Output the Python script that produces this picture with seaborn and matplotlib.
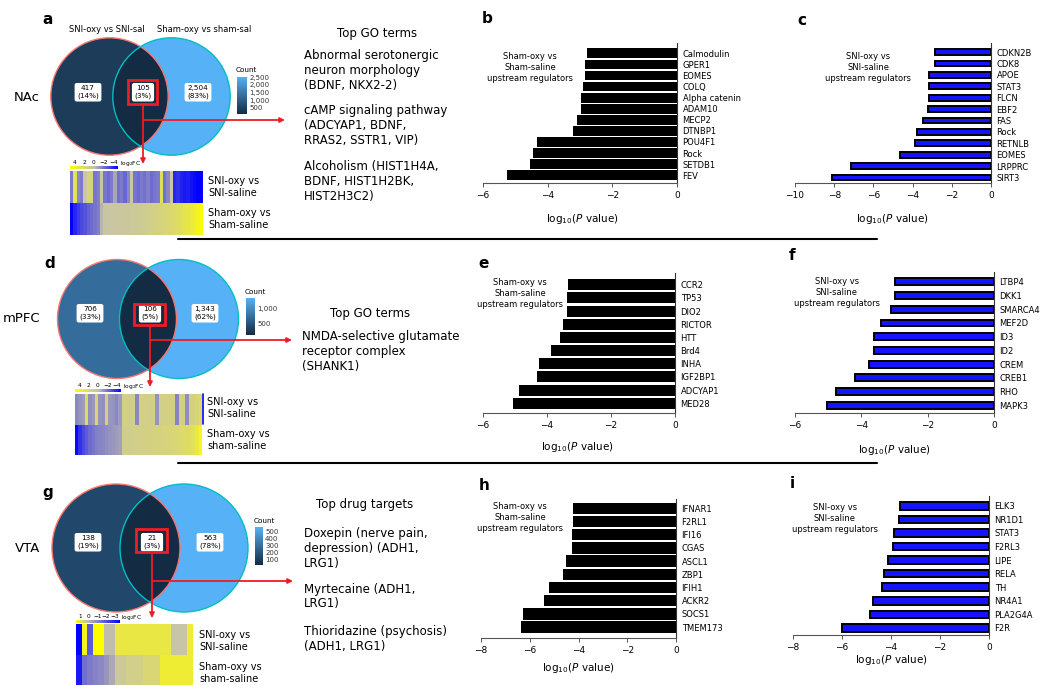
import numpy as np
import pandas as pd
import matplotlib
matplotlib.use("Agg")
import matplotlib.pyplot as plt
import seaborn as sns
from matplotlib.colors import LinearSegmentedColormap, Normalize
from matplotlib.cm import ScalarMappable
from matplotlib.patches import Circle, Rectangle

# ---------------- data ----------------
b_genes = ["Calmodulin", "GPER1", "EOMES", "COLQ", "Alpha catenin", "ADAM10", "MECP2",
           "DTNBP1", "POU4F1", "Rock", "SETDB1", "FEV"]
b_vals = [-2.79, -2.83, -2.83, -2.92, -2.97, -2.97, -3.09, -3.23, -4.34, -4.45, -4.54, -5.25]
c_genes = ["CDKN2B", "CDK8", "APOE", "STAT3", "FLCN", "EBF2", "FAS", "Rock", "RETNLB",
           "EOMES", "LRPPRC", "SIRT3"]
c_vals = [-2.87, -2.87, -3.17, -3.17, -3.17, -3.22, -3.46, -3.79, -3.86, -4.62, -7.13, -8.10]
e_genes = ["CCR2", "TP53", "DIO2", "RICTOR", "HTT", "Brd4", "INHA", "IGF2BP1", "ADCYAP1", "MED28"]
e_vals = [-3.34, -3.36, -3.39, -3.49, -3.58, -3.86, -4.25, -4.32, -4.89, -5.06]
f_genes = ["LTBP4", "DKK1", "SMARCA4", "MEF2D", "ID3", "ID2", "CREM", "CREB1", "RHO", "MAPK3"]
f_vals = [-3.00, -3.00, -3.10, -3.42, -3.62, -3.62, -3.78, -4.20, -4.77, -5.05]
h_genes = ["IFNAR1", "F2RL1", "IFI16", "CGAS", "ASCL1", "ZBP1", "IFIH1", "ACKR2", "SOCS1", "TMEM173"]
h_vals = [-4.24, -4.24, -4.27, -4.27, -4.52, -4.62, -5.21, -5.43, -6.28, -6.36]
i_genes = ["ELK3", "NR1D1", "STAT3", "F2RL3", "LIPE", "RELA", "TH", "NR4A1", "PLA2G4A", "F2R"]
i_vals = [-3.62, -3.66, -3.86, -3.90, -4.14, -4.30, -4.38, -4.72, -4.87, -6.02]

sham_note = "Sham-oxy vs\nSham-saline\nupstream regulators"
sni_note = "SNI-oxy vs\nSNI-saline\nupstream regulators"

regions = ["NAc", "mPFC", "VTA"]
nac_counts = [417, 105, 2504]
nac_pct = [14, 3, 83]
mpfc_counts = [706, 106, 1343]
mpfc_pct = [33, 5, 62]
vta_counts = [138, 21, 563]
vta_pct = [19, 3, 78]
nac_cbar_ticks = [500, 1000, 1500, 2000, 2500]
mpfc_cbar_ticks = [500, 1000]
vta_cbar_ticks = [100, 200, 300, 400, 500]
set_names = ["SNI-oxy vs SNI-sal", "Sham-oxy vs sham-sal"]

# heatmap log2FC (rows: SNI comparison, Sham comparison)
nac_sni = [-1.5, 2.0, -1.2, -1.5, 0.2, 1.2, 1.0, -1.6, -1.4, 0.3, -1.6, -1.8, -1.5, -0.6, -1.7,
           -1.5, -1.9, -1.2, 0.3, -1.6, -1.8, -1.5, -1.7, -1.4, -1.8, -1.6, -1.5, 1.8, -1.7, -1.2,
           0.2, -3.2, -3.0, -3.3, -3.5, -3.4, -3.6, -3.8, -4.0, -4.0]
nac_sham = [-4.0, -3.2, -2.8, -2.5, -2.3, -2.0, -1.8, -1.6, -1.4, -0.3, 0.1, 0.1, 0.2, 0.2, 0.2,
            0.3, 0.3, 0.3, 0.4, 0.4, 0.5, 0.5, 0.6, 0.7, 0.8, 0.9, 1.0, 1.1, 1.2, 1.3, 1.4, 1.5,
            1.7, 1.9, 2.1, 2.3, 2.6, 2.9, 3.3, 3.8]
mpfc_sni = [-1.2, -1.0, -0.8, 1.5, -1.1, -0.9, 1.2, -1.0, -1.1, 0.8, -0.9, -1.0, -1.2, -0.8,
            0.8, 0.9, 0.7, 0.8, -1.2, 0.8, 0.9, 0.8, 0.7, 0.9, -1.0, 0.8, 0.8, 0.9, 0.8, 0.9,
            -1.3, 0.8, 0.9, -1.1, 0.9, 1.0, 1.2, 1.5]
mpfc_sham = [-3.8, -3.0, -2.5, -2.1, -1.8, -1.6, -1.4, -1.3, -1.2, -1.1, -1.0, -0.9, -0.8, -0.7,
             0.6, 0.7, 0.7, 0.8, 0.8, 0.8, 0.9, 0.9, 0.9, 1.0, 1.0, 1.0, 1.1, 1.1, 1.2, 1.2, 1.3,
             1.4, 1.5, 1.6, 1.8, 2.0, 2.5, 3.5]
vta_sni = [-3.0, 0.8, -1.6, 1.0, 1.0, -0.1, -0.1, 0.6, 0.6, 0.6, 0.6, 0.6, 0.6, 0.6, 0.6, 0.6,
           0.6, 0.0, 0.0, 0.0, 0.7]
vta_sham = [-2.6, -1.3, -1.1, -1.0, -0.9, -0.7, -0.4, 0.1, 0.1, 0.2, 0.2, 0.2, 0.3, 0.3, 0.3,
            0.7, 0.7, 0.7, 0.7, 0.7, 0.7]
hm_rows_a = ["SNI-oxy vs\nSNI-saline", "Sham-oxy vs\nSham-saline"]
hm_rows_dg = ["SNI-oxy vs\nSNI-saline", "Sham-oxy vs\nsham-saline"]

go_a_title = "Top GO terms"
go_a = [["Abnormal serotonergic", "neuron morphology", "(BDNF, NKX2-2)"],
        ["cAMP signaling pathway", "(ADCYAP1, BDNF,", "RRAS2, SSTR1, VIP)"],
        ["Alcoholism (HIST1H4A,", "BDNF, HIST1H2BK,", "HIST2H3C2)"]]
go_d_title = "Top GO terms"
go_d = [["NMDA-selective glutamate", "receptor complex", "(SHANK1)"]]
go_g_title = "Top drug targets"
go_g = [["Doxepin (nerve pain,", "depression) (ADH1,", "LRG1)"],
        ["Myrtecaine (ADH1,", "LRG1)"],
        ["Thioridazine (psychosis)", "(ADH1, LRG1)"]]

# ---------------- setup ----------------
sns.set_theme(style="white")
plt.rcParams["font.family"] = ["DejaVu Sans"]
plt.rcParams["text.color"] = "black"
plt.rcParams["axes.labelcolor"] = "black"
plt.rcParams["xtick.color"] = "black"
plt.rcParams["ytick.color"] = "black"
W, H = 1050, 691
fig = plt.figure(figsize=(W / 100, H / 100), dpi=100)


def px_axes(x0, y0, x1, y1):
    return fig.add_axes([x0 / W, 1 - y1 / H, (x1 - x0) / W, (y1 - y0) / H])


ov = px_axes(0, 0, W, H)
ov.set_xlim(0, W)
ov.set_ylim(H, 0)
ov.axis("off")

RED = "#ee1c25"
venn_cmap = LinearSegmentedColormap.from_list("venn", ["#132B43", "#56B1F7"])
GREY = "#c6c3aa"


def hm_cmap(vmin, vmax):
    z = (0 - vmin) / (vmax - vmin)
    return LinearSegmentedColormap.from_list("hm", [(0, "#0000ff"), (z, GREY), (1, "#ffff00")])


def draw_venn(cxl, cxr, cy, r, counts, pcts, label_xy, cbar_box, ticks, count_xy):
    norm = Normalize(min(counts), max(counts))
    cols = [venn_cmap(norm(c)) for c in counts]
    right = Circle((cxr, cy), r, facecolor=cols[2], edgecolor="none", zorder=1)
    left = Circle((cxl, cy), r, facecolor=cols[0], edgecolor="none", zorder=2)
    ov.add_patch(right)
    ov.add_patch(left)
    inter = Circle((cxl, cy), r, facecolor=cols[1], edgecolor="none", zorder=3)
    ov.add_patch(inter)
    inter.set_clip_path(right)
    ov.add_patch(Circle((cxl, cy), r, fill=False, edgecolor="#F8766D", lw=1.0, zorder=4))
    ov.add_patch(Circle((cxr, cy), r, fill=False, edgecolor="#00BFC4", lw=1.0, zorder=4))
    for (x, y), c, p in zip(label_xy, counts, pcts):
        ov.text(x, y, f"{c:,}\n({p}%)", ha="center", va="center", fontsize=5.2, zorder=6,
                linespacing=1.3,
                bbox=dict(boxstyle="round,pad=0.35,rounding_size=0.3", fc="white", ec="none"))
    cax = px_axes(*cbar_box)
    cb = fig.colorbar(ScalarMappable(norm=norm, cmap=venn_cmap), cax=cax, ticks=ticks)
    cb.outline.set_visible(False)
    cb.ax.set_yticklabels([f"{t:,}" for t in ticks])
    cb.ax.tick_params(labelsize=5, length=2, width=0.6, color="white", direction="in", pad=1.5,
                      labelcolor="#333333")
    ov.text(count_xy[0], count_xy[1], "Count", fontsize=5.2, ha="left", va="center")


def draw_heatmap(box, top, bottom, vmin, vmax, legend_box, legend_vals, row_labels, row_x, row_ys):
    cmap = hm_cmap(vmin, vmax)
    hax = px_axes(*box)
    df = pd.DataFrame([top, bottom])
    sns.heatmap(df, ax=hax, cmap=cmap, vmin=vmin, vmax=vmax, cbar=False,
                xticklabels=False, yticklabels=False)
    lax = px_axes(*legend_box)
    lax.imshow(np.linspace(vmax, vmin, 256)[None, :], aspect="auto", cmap=cmap, vmin=vmin, vmax=vmax)
    lax.axis("off")
    x0, y0, x1, y1 = legend_box
    span = x1 - x0
    for v in legend_vals:
        xx = x0 + 0.1 * span + (vmax - v) / (vmax - vmin) * 0.8 * span
        ov.text(xx, y0 - 4, f"{v:g}".replace("-", "\u2212"), fontsize=4.2, ha="center", va="center")
    ov.text(x1 + 2, y0 - 2.5, r"log$_2$FC", fontsize=4.2, ha="left", va="center")
    for lab, yy in zip(row_labels, row_ys):
        ov.text(row_x, yy, lab, fontsize=7, ha="left", va="center", linespacing=1.15)


def red_links(box, x_mid, y_down_end, y_h, x_h_end):
    x0, y0, x1, y1 = box
    ov.add_patch(Rectangle((x0, y0), x1 - x0, y1 - y0, fill=False, edgecolor=RED, lw=2.0, zorder=7))
    ov.annotate("", xy=(x_mid, y_down_end), xytext=(x_mid, y1),
                arrowprops=dict(arrowstyle="-|>", color=RED, lw=1.3, mutation_scale=7,
                                shrinkA=0, shrinkB=0), zorder=7)
    ov.annotate("", xy=(x_h_end, y_h), xytext=(x_mid, y_h),
                arrowprops=dict(arrowstyle="-|>", color=RED, lw=1.3, mutation_scale=7,
                                shrinkA=0, shrinkB=0), zorder=7)


def go_text(title, title_xy, blocks, x, starts, pitch):
    ov.text(title_xy[0], title_xy[1], title, fontsize=8.5, ha="center", va="center")
    for blk, y0 in zip(blocks, starts):
        for k, line in enumerate(blk):
            ov.text(x, y0 + k * pitch, line, fontsize=8.5, ha="left", va="center")


def bar_panel(rect, genes, vals, lo, ticks, ylim, width, blue, note, note_xy, xlabel_xy):
    ax = px_axes(*rect)
    df = pd.DataFrame({"gene": genes, "val": vals})
    if blue:
        sns.barplot(data=df, x="val", y="gene", orient="h", color="#1414ff", saturation=1,
                    width=width, edgecolor="black", linewidth=1.4, ax=ax)
    else:
        sns.barplot(data=df, x="val", y="gene", orient="h", color="black", saturation=1,
                    width=width, linewidth=0, ax=ax)
    ax.set_xlim(lo, 0)
    ax.set_ylim(*ylim)
    ax.set_xlabel("")
    ax.set_ylabel("")
    ax.set_xticks(ticks)
    ax.yaxis.tick_right()
    ax.tick_params(axis="y", length=0, labelsize=6, pad=4)
    ax.tick_params(axis="x", labelsize=6.5, length=3, width=0.7, color="#555555", pad=3,
                   bottom=True)
    for s in ["left", "top"]:
        ax.spines[s].set_visible(False)
    ax.spines["right"].set_color("#333333")
    ax.spines["right"].set_linewidth(0.8)
    ax.spines["bottom"].set_color("#555555")
    ax.spines["bottom"].set_linewidth(0.8)
    ax.patch.set_alpha(0)
    ov.text(note_xy[0], note_xy[1], note, fontsize=6, ha="center", va="top", linespacing=1.3)
    ov.text(xlabel_xy[0], xlabel_xy[1], r"log$_{10}$($P$ value)", fontsize=7.5,
            ha="center", va="center")


# ---------------- Venn + heatmaps ----------------
draw_venn(109.5, 171.5, 96.5, 58.7, nac_counts, nac_pct, [(88, 92), (143, 92), (198, 92)],
          (237, 77, 247, 114), nac_cbar_ticks, (236, 70))
draw_venn(117, 179, 319, 59.5, mpfc_counts, mpfc_pct, [(90, 313), (150, 313), (205, 313)],
          (246, 298, 255, 335), mpfc_cbar_ticks, (245, 292))
draw_venn(116, 184, 548, 64, vta_counts, vta_pct, [(88, 542), (152, 542), (210, 542)],
          (255, 527, 263, 565), vta_cbar_ticks, (254, 521))

ov.text(107, 29, set_names[0], fontsize=6, ha="center", va="center")
ov.text(204, 29, set_names[1], fontsize=6, ha="center", va="center")
for name, y in zip(regions, [97, 318, 548]):
    ov.text(40, y, name, fontsize=9.5, ha="right", va="center")

red_links((128, 80, 157, 104), 143, 164, 120, 285)
red_links((134, 304, 165, 325), 150, 387, 340, 292)
red_links((136, 529, 167, 552), 152, 618, 581, 293)

draw_heatmap((70, 171, 203, 235), nac_sni, nac_sham, -4, 4, (70, 166, 118, 169),
             [4, 2, 0, -2, -4], hm_rows_a, 208, [187, 219])
draw_heatmap((75, 394, 202, 455), mpfc_sni, mpfc_sham, -4, 4, (75, 389, 121, 392),
             [4, 2, 0, -2, -4], hm_rows_dg, 207, [408, 440])
ov.plot([202.5, 202.5], [394, 424], color="#0000ff", lw=1.2)
draw_heatmap((76, 624, 193, 685), vta_sni, vta_sham, -3, 1, (76, 620, 119, 623),
             [1, 0, -1, -2, -3], hm_rows_dg, 199, [641, 673])

go_text(go_a_title, (377, 33), go_a, 304, [55, 110, 166], 15.2)
go_text(go_d_title, (370, 313), go_d, 302, [336], 15)
go_text(go_g_title, (365, 504), go_g, 304, [534, 589, 632], 14.7)

# ---------------- bar panels ----------------
bar_panel((483, 43, 677, 183), b_genes, b_vals, -6, [-6, -4, -2, 0], (11.7, -0.93), 0.88,
          False, sham_note, (530, 52), (582, 219))
bar_panel((795, 43, 991, 183), c_genes, c_vals, -10, [-10, -8, -6, -4, -2, 0], (11.48, -0.79), 0.5,
          True, sni_note, (868, 52), (892, 219))
bar_panel((483, 273, 675, 413), e_genes, e_vals, -6, [-6, -4, -2, 0], (9.74, -0.89), 0.83,
          False, sham_note, (520, 278), (577, 447))
bar_panel((795, 272, 994, 413), f_genes, f_vals, -6, [-6, -4, -2, 0], (9.56, -0.71), 0.5,
          True, sni_note, (837, 277), (894, 450))
bar_panel((481, 499, 676, 638), h_genes, h_vals, -8, [-8, -6, -4, -2, 0], (9.82, -0.7), 0.86,
          False, sham_note, (520, 502), (578, 668))
bar_panel((793, 496, 989, 635), i_genes, i_vals, -8, [-8, -6, -4, -2, 0], (9.52, -0.72), 0.55,
          True, sni_note, (835, 503), (891, 660))

# separators and panel letters
ov.plot([178, 877], [239, 239], color="black", lw=1.5)
ov.plot([178, 877], [463, 463], color="black", lw=1.5)
for letter, (x, y) in zip("abcdefghi", [(48, 19), (487, 18), (802, 20), (50, 263), (484, 263),
                                        (792, 255), (48, 492), (484, 485), (792, 483)]):
    ov.text(x, y, letter, fontsize=11, fontweight="bold", ha="center", va="center")

fig.savefig("out.png", dpi=100)
